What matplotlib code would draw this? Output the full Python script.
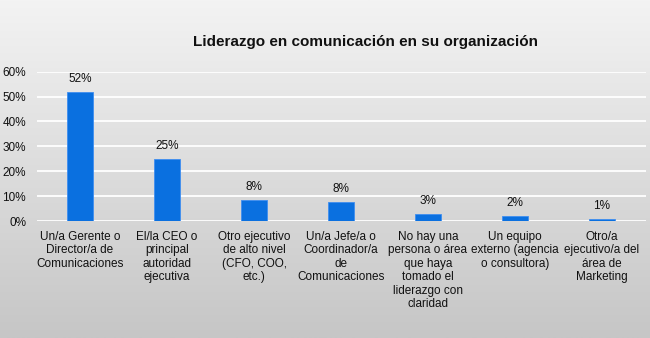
import matplotlib
matplotlib.use("Agg")
import matplotlib.pyplot as plt
import numpy as np
from matplotlib.colors import LinearSegmentedColormap

title = "Liderazgo en comunicación en su organización"
categories = [
    "Un/a Gerente o\nDirector/a de\nComunicaciones",
    "El/la CEO o\nprincipal\nautoridad\nejecutiva",
    "Otro ejecutivo\nde alto nivel\n(CFO, COO,\netc.)",
    "Un/a Jefe/a o\nCoordinador/a\nde\nComunicaciones",
    "No hay una\npersona o área\nque haya\ntomado el\nliderazgo con\nclaridad",
    "Un equipo\nexterno (agencia\no consultora)",
    "Otro/a\nejecutivo/a del\nárea de\nMarketing",
]
values = [52, 25, 8.3, 7.6, 3.0, 2.2, 0.9]
value_labels = ["52%", "25%", "8%", "8%", "3%", "2%", "1%"]
yticks = [0, 10, 20, 30, 40, 50, 60]
ytick_labels = ["0%", "10%", "20%", "30%", "40%", "50%", "60%"]

plt.rcParams['font.family'] = ['Liberation Sans', 'DejaVu Sans']

fig = plt.figure(figsize=(6.5, 3.38), dpi=100)

# background gradient
bg = fig.add_axes([0, 0, 1, 1], zorder=-10)
grad = np.linspace(0, 1, 256).reshape(-1, 1)
cmap = LinearSegmentedColormap.from_list("g", ["#f3f3f3", "#c6c6c6"])
bg.imshow(grad, aspect='auto', cmap=cmap, extent=[0, 1, 0, 1], origin='upper')
bg.axis('off')

ax = fig.add_axes([36.5/650, 1-221/338, (645.5-36.5)/650, (221-71.7)/338])
ax.patch.set_alpha(0)
x = np.arange(len(categories))
ax.bar(x, values, width=0.31, color='#0a70e0', edgecolor='#3f8ef0', linewidth=0.6, zorder=3)
ax.set_xlim(-0.5, len(categories)-0.5)
ax.set_ylim(0, 60)
ax.set_yticks(yticks)
ax.set_yticklabels(ytick_labels, fontsize=8.5, color='#111111')
ax.yaxis.grid(True, color='white', linewidth=1.3, zorder=0)
ax.set_axisbelow(True)
for s in ax.spines.values():
    s.set_visible(False)
ax.tick_params(axis='both', length=0)
ax.tick_params(axis='y', pad=7.5)
ax.tick_params(axis='x', pad=7)
ax.set_xticks(x)
ax.set_xticklabels(categories, fontsize=8.5, color='#111111', linespacing=1.17, va='top')

for xi, v, lab in zip(x, values, value_labels):
    ax.annotate(lab, (xi, v), xytext=(0, 5), textcoords='offset points',
                ha='center', va='bottom', fontsize=8.5, color='#111111')

fig.text(366/650, 1-42/338, title, ha='center', va='center', fontsize=11, fontweight='bold', color='#111111')

fig.savefig("out.png", dpi=100)
